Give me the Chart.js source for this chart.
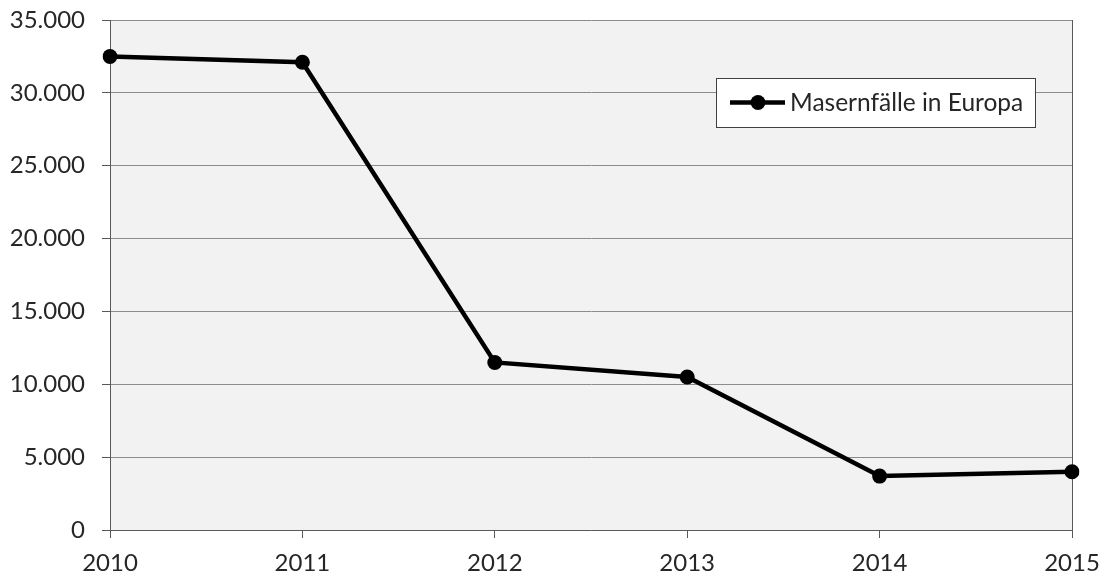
<!DOCTYPE html>
<html>
<head>
<meta charset="utf-8">
<script src="https://cdn.jsdelivr.net/npm/chart.js@4/dist/chart.umd.min.js"></script>
<style>
  html, body { margin: 0; padding: 0; background: #fff; }
  #wrap { width: 1105px; height: 579px; }
</style>
</head>
<body>
<div id="wrap"><canvas id="grafico"></canvas></div>
<script>
// Daten
const jahre = ['2010', '2011', '2012', '2013', '2014', '2015'];
const masernfaelle = [32500, 32100, 11500, 10500, 3700, 4000];
const serienName = 'Masernfälle in Europa';

// Tausenderpunkt wie im Original
function formatZahl(v) {
  return String(v).replace(/\B(?=(\d{3})+(?!\d))/g, '.');
}

const familie = 'Lato, "Open Sans", sans-serif';

// Hintergrund der Zeichenfläche
const hintergrund = {
  id: 'hintergrund',
  beforeDraw(chart) {
    const { ctx, chartArea: a } = chart;
    ctx.save();
    ctx.fillStyle = '#f2f2f2';
    ctx.fillRect(a.left, a.top, a.right - a.left, a.bottom - a.top);
    ctx.restore();
  }
};

// Legende als Kasten in der Zeichenfläche
const legendeKasten = {
  id: 'legendeKasten',
  afterDraw(chart) {
    const ctx = chart.ctx;
    const x = 716, y = 78, w = 319, h = 49;
    ctx.save();
    ctx.fillStyle = '#fff';
    ctx.fillRect(x, y, w, h);
    ctx.strokeStyle = '#404040';
    ctx.lineWidth = 1;
    ctx.strokeRect(x + 0.5, y + 0.5, w, h);
    const my = y + h / 2;
    ctx.strokeStyle = '#000';
    ctx.lineWidth = 4.5;
    ctx.beginPath();
    ctx.moveTo(730, my);
    ctx.lineTo(785, my);
    ctx.stroke();
    ctx.fillStyle = '#000';
    ctx.beginPath();
    ctx.arc(758, my, 7.5, 0, Math.PI * 2);
    ctx.fill();
    ctx.fillStyle = '#262626';
    ctx.font = '24.5px ' + familie;
    ctx.textBaseline = 'middle';
    ctx.fillText(chart.data.datasets[0].label, 790, my + 1);
    ctx.restore();
  }
};

const ctx = document.getElementById('grafico').getContext('2d');
new Chart(ctx, {
  type: 'line',
  data: {
    labels: jahre,
    datasets: [{
      label: serienName,
      data: masernfaelle,
      borderColor: '#000',
      backgroundColor: '#000',
      borderWidth: 4.5,
      pointRadius: 7.5,
      pointHoverRadius: 7.5,
      pointBackgroundColor: '#000',
      pointBorderWidth: 0,
      tension: 0
    }]
  },
  options: {
    responsive: true,
    maintainAspectRatio: false,
    animation: false,
    layout: { padding: { top: 0, right: 33, bottom: 0, left: 0 } },
    plugins: {
      legend: { display: false },
      tooltip: { enabled: false }
    },
    scales: {
      x: {
        offset: false,
        grid: {
          drawOnChartArea: true,
          color: c => c.index === jahre.length - 1 ? '#595959' : 'rgba(0,0,0,0)',
          tickColor: '#595959',
          tickLength: 8
        },
        border: { color: '#595959', width: 1 },
        ticks: { color: '#262626', font: { family: familie, size: 24 }, padding: 11, maxRotation: 0 },
        afterFit(scale) {
          scale.height = 49;
          scale.paddingLeft = 0;
          scale.paddingRight = 0;
        }
      },
      y: {
        min: 0,
        max: 35000,
        grid: { color: '#8c8c8c', tickColor: '#595959', tickLength: 8 },
        border: { color: '#595959', width: 1 },
        ticks: {
          stepSize: 5000,
          color: '#262626',
          // kleine Zeilenhöhe, damit die Zeichenfläche oben bei ~20px beginnt
          font: { family: familie, size: 24, lineHeight: 0.25 },
          padding: 17,
          callback: v => formatZahl(v)
        },
        afterFit(scale) { scale.width = 110; }
      }
    }
  },
  plugins: [hintergrund, legendeKasten]
});
</script>
</body>
</html>
